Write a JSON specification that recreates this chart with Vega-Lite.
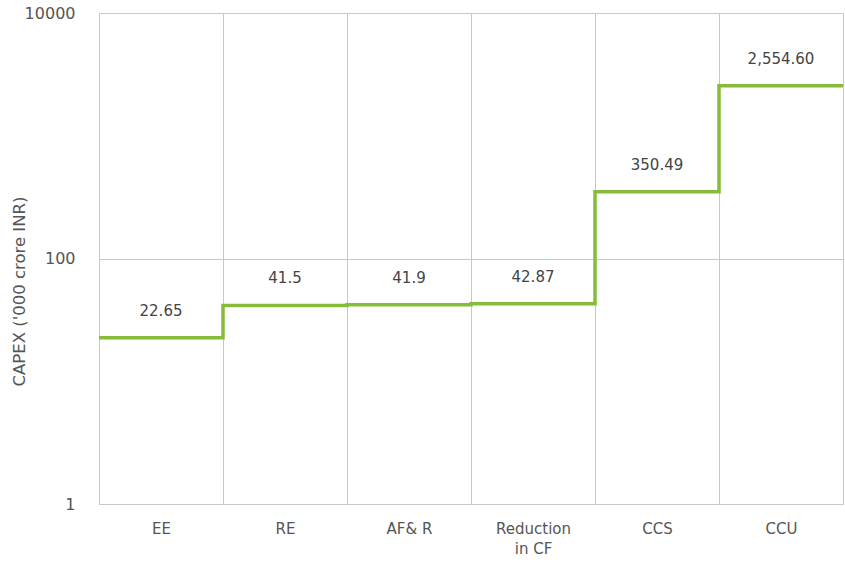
{
  "$schema": "https://vega.github.io/schema/vega-lite/v6.json",
  "width": 744,
  "height": 491,
  "autosize": {"type": "none"},
  "padding": {"left": 99, "top": 13, "right": 2, "bottom": 58},
  "background": "white",
  "config": {
    "view": {"stroke": null},
    "font": "DejaVu Sans",
    "axis": {"labelFont": "DejaVu Sans", "titleFont": "DejaVu Sans", "labelColor": "#555555", "titleColor": "#555555", "gridColor": "#c8c8c8", "gridWidth": 1, "domainColor": "#c8c8c8"}
  },
  "data": {
    "values": [
      {"i": 0, "cat": "EE", "v": 22.65, "label": "22.65"},
      {"i": 1, "cat": "RE", "v": 41.5, "label": "41.5"},
      {"i": 2, "cat": "AF& R", "v": 41.9, "label": "41.9"},
      {"i": 3, "cat": "Reduction in CF", "v": 42.87, "label": "42.87"},
      {"i": 4, "cat": "CCS", "v": 350.49, "label": "350.49"},
      {"i": 5, "cat": "CCU", "v": 2554.6, "label": "2,554.60"},
      {"i": 6, "cat": "", "v": 2554.6, "label": ""}
    ]
  },
  "encoding": {
    "x": {
      "field": "i",
      "type": "quantitative",
      "scale": {"domain": [0, 6], "nice": false, "zero": false},
      "axis": {
        "title": null,
        "values": [0, 0.5, 1, 1.5, 2, 2.5, 3, 3.5, 4, 4.5, 5, 5.5, 6],
        "labelExpr": "datum.value == 0.5 ? 'EE' : datum.value == 1.5 ? 'RE' : datum.value == 2.5 ? 'AF&  R' : datum.value == 3.5 ? ['Reduction', 'in CF'] : datum.value == 4.5 ? 'CCS' : datum.value == 5.5 ? 'CCU' : ''",
        "labelFontSize": 15,
        "labelPadding": 17,
        "labelLineHeight": 20,
        "labelBaseline": "top",
        "ticks": false,
        "domain": false,
        "grid": true,
        "gridOpacity": {"condition": {"test": "datum.value % 1 === 0", "value": 1}, "value": 0},
        "labelFlush": false,
        "labelOverlap": false
      }
    },
    "y": {
      "field": "v",
      "type": "quantitative",
      "scale": {"type": "log", "domain": [1, 10000], "nice": false},
      "axis": {
        "title": "CAPEX ('000 crore INR)",
        "titleFontSize": 16.5,
        "titleFontWeight": "normal",
        "titleX": -80,
        "titleY": 278,
        "titleAngle": -90,
        "titleBaseline": "middle",
        "values": [1, 100, 10000],
        "format": "d",
        "labelFontSize": 16,
        "labelPadding": 24,
        "ticks": false,
        "grid": true,
        "domain": true
      }
    }
  },
  "layer": [
    {
      "mark": {"type": "line", "interpolate": "step-after", "color": "#86bc3a", "strokeWidth": 3.5}
    },
    {
      "transform": [{"filter": "datum.label != ''"}],
      "mark": {"type": "text", "dx": 62, "dy": -27, "fontSize": 15, "color": "#444444", "align": "center", "baseline": "middle"},
      "encoding": {"text": {"field": "label"}}
    }
  ]
}
